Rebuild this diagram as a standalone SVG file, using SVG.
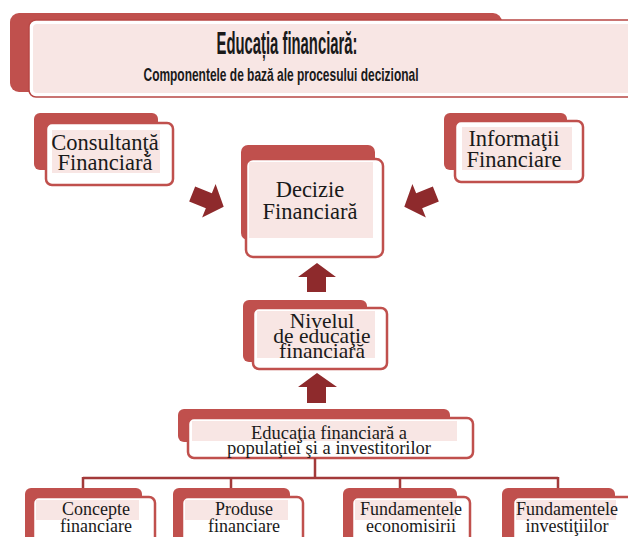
<svg xmlns="http://www.w3.org/2000/svg" width="628" height="537" viewBox="0 0 628 537">
  <defs>
    <style>
      .back { fill: #C0504D; }
      .front { fill: #FFFFFF; stroke: #C0504D; stroke-width: 2.5; }
      .tint { fill: #F8E6E4; }
      .lbl { font-family: "Liberation Serif", "Times New Roman", serif; fill: #1A1A1A; text-anchor: middle; }
      .ttl { font-family: "Liberation Sans Narrow", "Liberation Sans", Arial, sans-serif; font-weight: bold; fill: #1A1A1A; text-anchor: middle; }
      .arrow { fill: #8E2A2C; }
      .wire { fill: none; stroke: #A33A3A; stroke-width: 2.5; }
    </style>
    <!-- block arrow pointing along +x, centred on the origin -->
    <polygon id="blockArrow" points="-16,-8 2,-8 2,-18 18,0 2,18 2,8 -16,8"/>
  </defs>

  <rect width="628" height="537" fill="#FFFFFF"/>

  <!-- header -->
  <g id="header">
    <rect class="back" x="10" y="13" width="492" height="79" rx="9"/>
    <rect x="29" y="20" width="620" height="77" rx="7" fill="#FFFFFF" stroke="#B84744" stroke-width="1.5"/>
    <rect class="tint" x="33" y="24" width="600" height="69" rx="4"/>
    <text class="ttl" x="287" y="54" font-size="31" textLength="141" lengthAdjust="spacingAndGlyphs">Educația financiară:</text>
    <text class="ttl" x="281" y="81" font-size="18.5" textLength="275" lengthAdjust="spacingAndGlyphs">Componentele de bază ale procesului decizional</text>
  </g>

  <!-- nodes -->
  <g id="consultanta">
    <rect class="back" x="34" y="113" width="124" height="57" rx="6"/>
    <rect class="front" x="46" y="123" width="127" height="62" rx="6"/>
    <rect class="tint" x="52" y="130" width="108" height="43"/>
    <text class="lbl" font-size="22.5"><tspan x="105" y="150">Consultanţă</tspan><tspan x="105" y="170">Financiară</tspan></text>
  </g>

  <g id="informatii">
    <rect class="back" x="444" y="113" width="123" height="57" rx="6"/>
    <rect class="front" x="455" y="121" width="128" height="61" rx="6"/>
    <rect class="tint" x="462" y="127" width="110" height="43"/>
    <text class="lbl" font-size="22.5"><tspan x="514" y="146">Informaţii</tspan><tspan x="514" y="167">Financiare</tspan></text>
  </g>

  <g id="decizie">
    <rect class="back" x="241" y="145" width="134" height="95" rx="7"/>
    <rect class="front" x="246" y="159" width="137" height="98" rx="7"/>
    <rect class="tint" x="249" y="162" width="124" height="76"/>
    <text class="lbl" font-size="22.5"><tspan x="310" y="197">Decizie</tspan><tspan x="310" y="219">Financiară</tspan></text>
  </g>

  <g id="nivelul">
    <rect class="back" x="243" y="300" width="124" height="62" rx="6"/>
    <rect class="front" x="253" y="308" width="134" height="61" rx="6"/>
    <rect class="tint" x="257" y="311" width="118" height="47"/>
    <text class="lbl" font-size="21.5"><tspan x="322" y="328">Nivelul</tspan><tspan x="322" y="343">de educaţie</tspan><tspan x="322" y="358">financiară</tspan></text>
  </g>

  <g id="educatia">
    <rect class="back" x="178" y="409" width="272" height="33" rx="6"/>
    <rect class="front" x="188" y="418" width="285" height="40" rx="6"/>
    <rect class="tint" x="192" y="421" width="265" height="20"/>
    <text class="lbl" font-size="18.5"><tspan x="329" y="439">Educaţia financiară a</tspan><tspan x="329" y="454">populaţiei şi a investitorilor</tspan></text>
  </g>

  <g id="concepte">
    <rect class="back" x="25" y="488" width="117" height="60" rx="6"/>
    <rect class="front" x="33" y="497" width="122" height="50" rx="6"/>
    <rect class="tint" x="36" y="500" width="103" height="20"/>
    <text class="lbl" font-size="18"><tspan x="96" y="515">Concepte</tspan><tspan x="96" y="532">financiare</tspan></text>
  </g>

  <g id="produse">
    <rect class="back" x="173" y="488" width="117" height="60" rx="6"/>
    <rect class="front" x="182" y="497" width="121" height="50" rx="6"/>
    <rect class="tint" x="185" y="500" width="103" height="20"/>
    <text class="lbl" font-size="18"><tspan x="244" y="515">Produse</tspan><tspan x="244" y="532">financiare</tspan></text>
  </g>

  <g id="economisire">
    <rect class="back" x="343" y="488" width="114" height="60" rx="6"/>
    <rect class="front" x="352" y="497" width="118" height="50" rx="6"/>
    <rect class="tint" x="355" y="500" width="101" height="20"/>
    <text class="lbl" font-size="18"><tspan x="411" y="515">Fundamentele</tspan><tspan x="411" y="532">economisirii</tspan></text>
  </g>

  <g id="investitii">
    <rect class="back" x="502" y="488" width="113" height="60" rx="6"/>
    <rect class="front" x="513" y="497" width="122" height="50" rx="6"/>
    <rect class="tint" x="516" y="500" width="100" height="20"/>
    <text class="lbl" font-size="18"><tspan x="567" y="515">Fundamentele</tspan><tspan x="567" y="532">investiţiilor</tspan></text>
  </g>

  <!-- connectors -->
  <g id="connectors">
    <use href="#blockArrow" class="arrow" transform="translate(207,200) rotate(22)"/>
    <use href="#blockArrow" class="arrow" transform="translate(421,200) rotate(158)"/>
    <polygon class="arrow" points="307,292 307,277 298,277 317,263 336,277 326,277 326,292"/>
    <polygon class="arrow" points="307,403 307,387 298,387 317,373 337,387 326,387 326,403"/>
    <path class="wire" d="M315,458 V478 M83,478 H558 M83,477 V488 M231,477 V488 M400,477 V488 M558,477 V488"/>
  </g>
</svg>
